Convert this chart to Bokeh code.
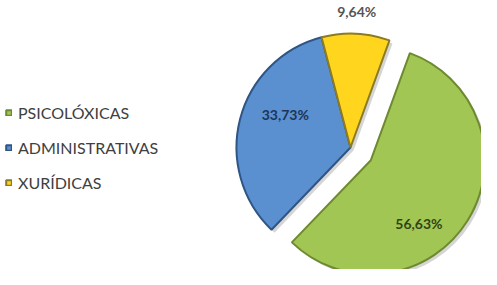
import math
from bokeh.plotting import figure
from bokeh.models import ColumnDataSource, Legend, LegendItem, Range1d
from bokeh.embed import file_html
from bokeh.resources import INLINE
from bokeh.core.properties import value

categories = ["PSICOLÓXICAS", "ADMINISTRATIVAS", "XURÍDICAS"]
percentages = [56.63, 33.73, 9.64]
labels = ["56,63%", "33,73%", "9,64%"]

fill_colors = ["#a2c653", "#5a8fd0", "#ffd51e"]
edge_colors = ["#6e8a30", "#2f5585", "#8c7b22"]
label_colors = ["#2f4414", "#1d3558", "#555555"]
explode = [1, 0, 0]
label_radius = [0.70, 0.64, 1.19]
label_shift = [21, 12, 0]

W, H = 481, 269
CX, CY, R = 350, 122, 114
START = 20.0
EXPLODE_PX = 24

starts, ends, xs, ys, lx, ly = [], [], [], [], [], []
acc = START
for i, pct in enumerate(percentages):
    a0 = acc
    a1 = acc + pct * 3.6
    acc = a1
    mid = math.radians((a0 + a1) / 2)
    ox = explode[i] * EXPLODE_PX * math.sin(mid)
    oy = explode[i] * EXPLODE_PX * math.cos(mid)
    starts.append(math.radians(90 - a0))
    ends.append(math.radians(90 - a1))
    xs.append(CX + ox)
    ys.append(CY + oy)
    lm = math.radians((a0 + a1) / 2 + label_shift[i])
    lx.append(CX + ox + label_radius[i] * R * math.sin(lm))
    ly.append(CY + oy + label_radius[i] * R * math.cos(lm))

src = ColumnDataSource(dict(x=xs, y=ys, start=starts, end=ends, fill=fill_colors,
                            edge=edge_colors, cat=categories))
shadow = ColumnDataSource(dict(x=[v + 3 for v in xs], y=[v - 3 for v in ys], start=starts, end=ends))
lab = ColumnDataSource(dict(x=lx, y=ly, text=labels, color=label_colors))

p = figure(width=W, height=H, output_backend="svg", toolbar_location=None,
           x_range=Range1d(0, W), y_range=Range1d(0, H), min_border=0)
p.axis.visible = False
p.grid.visible = False
p.outline_line_color = None
p.background_fill_color = "white"

p.wedge(x="x", y="y", radius=R, start_angle="start", end_angle="end", direction="clock",
        source=shadow, fill_color="#888888", fill_alpha=0.35, line_color=None)
w = p.wedge(x="x", y="y", radius=R, start_angle="start", end_angle="end", direction="clock",
            source=src, fill_color="fill", line_color="edge", line_width=2)
p.text(x="x", y="y", text="text", source=lab, text_color="color",
       text_font=value("Lato"), text_font_size="14px", text_font_style="bold",
       text_align="center", text_baseline="middle")

items = [LegendItem(label=c, renderers=[w], index=i) for i, c in enumerate(categories)]
legend = Legend(items=items, location=(5, 77), orientation="vertical",
                border_line_color=None, background_fill_alpha=0,
                padding=0, margin=0, spacing=15, label_height=20,
                glyph_width=7, glyph_height=7, label_standoff=6,
                label_text_font="Lato", label_text_font_size="16px",
                label_text_color="#404040")
p.add_layout(legend, "center")

open("out.html", "w").write(file_html(p, INLINE))
